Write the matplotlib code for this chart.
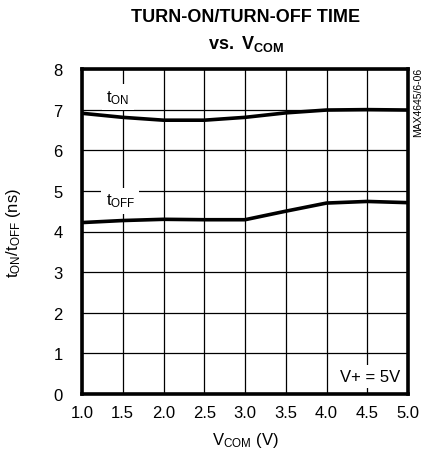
import matplotlib
matplotlib.use("Agg")
import matplotlib.pyplot as plt
from matplotlib import font_manager

fams = {f.name for f in font_manager.fontManager.ttflist}
FONT = "Liberation Sans Narrow" if "Liberation Sans Narrow" in fams else "Liberation Sans"
plt.rcParams['font.family'] = [FONT, 'DejaVu Sans']
plt.rcParams['mathtext.fontset'] = 'custom'
plt.rcParams['mathtext.rm'] = FONT
plt.rcParams['mathtext.it'] = FONT
plt.rcParams['mathtext.bf'] = FONT + ':bold'

vcom = [1.0, 1.5, 2.0, 2.5, 3.0, 3.5, 4.0, 4.5, 5.0]
t_on = [6.91, 6.81, 6.74, 6.74, 6.81, 6.92, 6.99, 7.00, 6.99]
t_off = [4.22, 4.27, 4.30, 4.29, 4.29, 4.50, 4.70, 4.74, 4.71]
xticks = [1.0, 1.5, 2.0, 2.5, 3.0, 3.5, 4.0, 4.5, 5.0]
yticks = [0, 1, 2, 3, 4, 5, 6, 7, 8]

fig = plt.figure(figsize=(4.29, 4.56), dpi=100)
ax = fig.add_axes([82/429, 1-395/456, 326/429, 325/456])

ax.set_xlim(1.0, 5.0)
ax.set_ylim(0, 8)
ax.set_xticks(xticks)
ax.set_xticklabels([f"{v:.1f}" for v in xticks])
ax.set_yticks(yticks)
ax.tick_params(length=0, labelsize=12)
ax.tick_params(axis='x', pad=8)
ax.tick_params(axis='y', pad=14)
ax.grid(True, color='black', linewidth=0.9)
ax.set_axisbelow(True)
for s in ax.spines.values():
    s.set_linewidth(2.6)

ax.plot(vcom, t_on, color='black', linewidth=2.6, solid_joinstyle='round', zorder=3)
ax.plot(vcom, t_off, color='black', linewidth=2.6, solid_joinstyle='round', zorder=3)

bbox = dict(facecolor='white', edgecolor='none', pad=3)
ax.text(1.44, 7.3, r'$\mathregular{t_{ON}}$', fontsize=12, ha='center', va='center', bbox=bbox, zorder=2)
ax.text(1.47, 4.76, r'$\mathregular{t_{OFF}}$', fontsize=12, ha='center', va='center', bbox=bbox, zorder=2)
ax.text(4.9, 0.43, 'V+ = 5V', fontsize=12, ha='right', va='center', bbox=bbox, zorder=2)

ax.set_xlabel(r'$\mathregular{V_{COM}}$ (V)', fontsize=12, labelpad=7)
ax.set_ylabel(r'$\mathregular{t_{ON}/t_{OFF}}$ (ns)', fontsize=12, labelpad=22)

fig.text(246/429, 1-18/456, 'TURN-ON/TURN-OFF TIME', fontsize=13, fontweight='bold',
         ha='center', va='center')
fig.text(246/429, 1-44/456, r'$\mathbf{vs.\ V}_{\mathbf{COM}}$', fontsize=13, fontweight='bold',
         ha='center', va='center')
fig.text(418/429, 1-102/456, 'MAX4645/6-06', fontsize=7.5, rotation=90, ha='center', va='center')

fig.savefig('out.png', dpi=100)
